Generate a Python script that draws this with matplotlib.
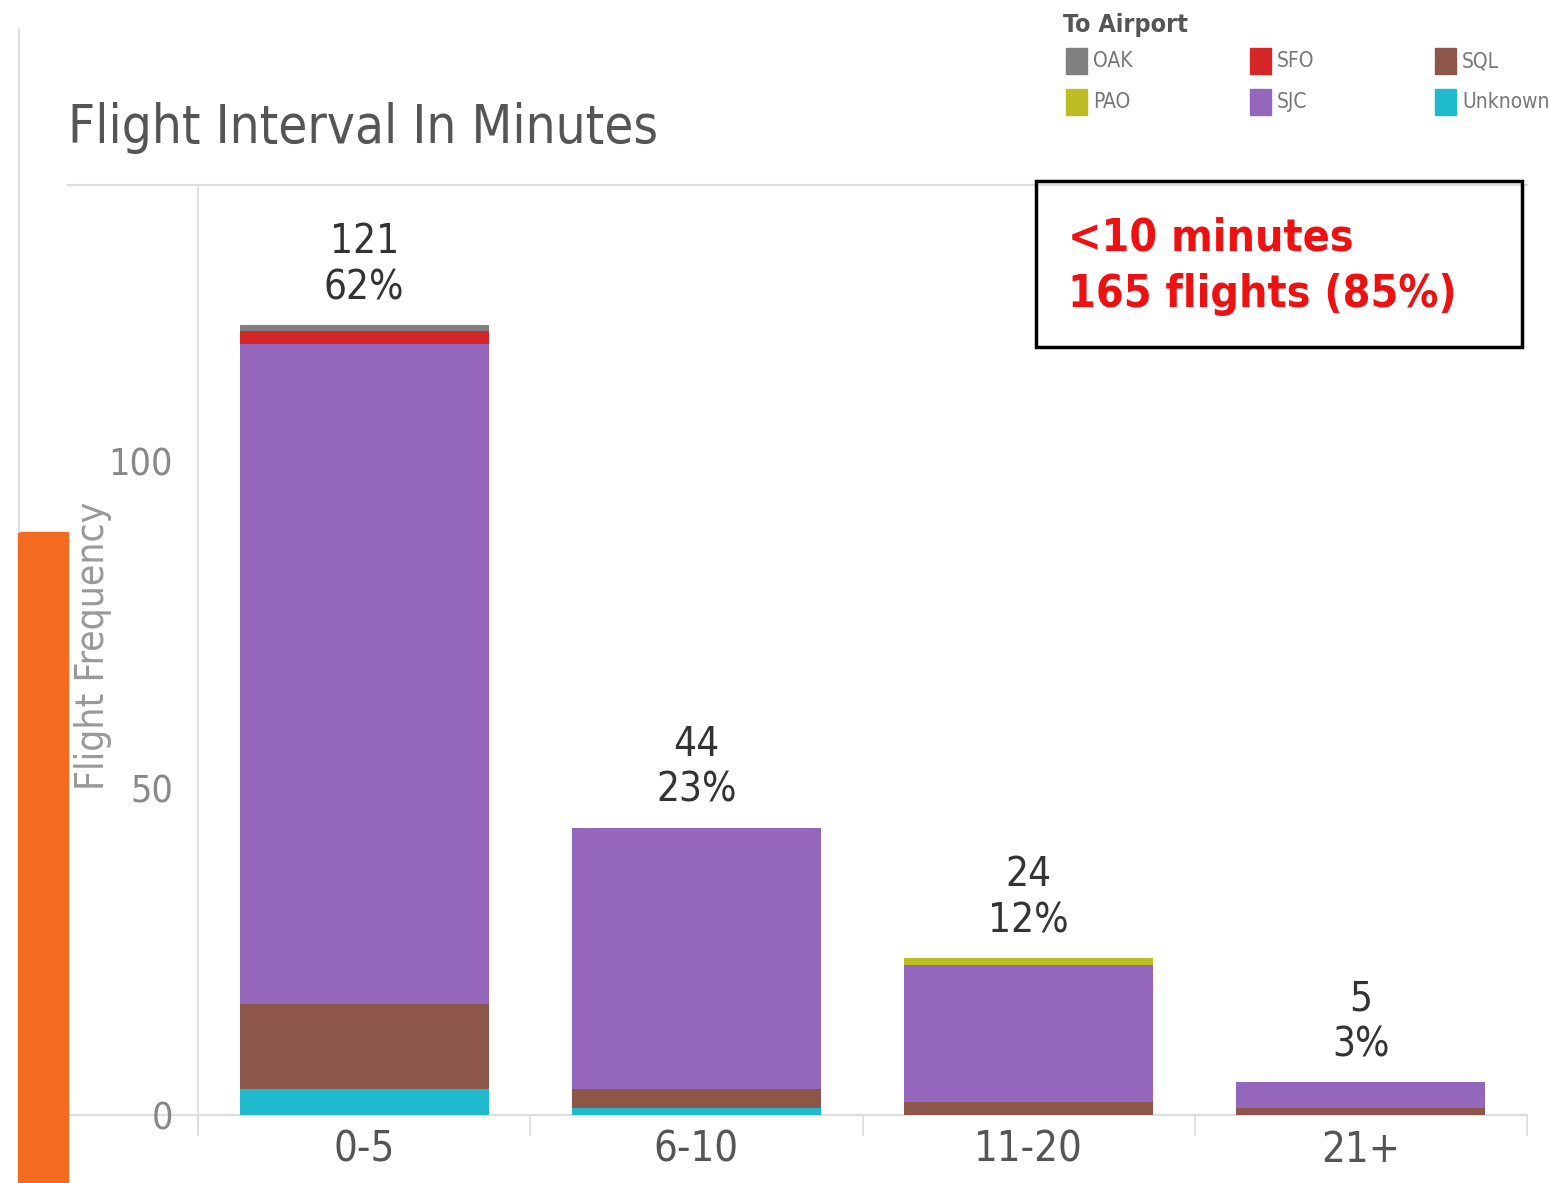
import matplotlib
matplotlib.use('Agg')
import matplotlib.pyplot as plt
from matplotlib.patches import Rectangle
from matplotlib.lines import Line2D

# 구간별 목적지 공항 편수
categories = ['0-5', '6-10', '11-20', '21+']
airports = ['Unknown', 'SQL', 'SJC', 'PAO', 'SFO', 'OAK']
unknown = [4, 1, 0, 0]
sql = [13, 3, 2, 1]
sjc = [101, 40, 21, 4]
pao = [0, 0, 1, 0]
sfo = [2, 0, 0, 0]
oak = [1, 0, 0, 0]
totals = [121, 44, 24, 5]
pcts = ['62%', '23%', '12%', '3%']

colors = {'OAK': '#7f7f7f', 'SFO': '#d62728', 'SQL': '#8c564b',
          'PAO': '#bcbd22', 'SJC': '#9467bd', 'Unknown': '#1fbacd'}
series = {'Unknown': unknown, 'SQL': sql, 'SJC': sjc,
          'PAO': pao, 'SFO': sfo, 'OAK': oak}

plt.rcParams['font.family'] = ['DejaVu Sans']
plt.rcParams['font.stretch'] = 'condensed'

fig = plt.figure(figsize=(15.5, 11.83), dpi=100)
ax = fig.add_axes([198 / 1550, 1 - 1115 / 1183, 1329 / 1550, 930 / 1183])

x = range(len(categories))
bottom = [0] * len(categories)
for name in airports:
    vals = series[name]
    ax.bar(x, vals, width=0.75, bottom=bottom, color=colors[name], linewidth=0)
    bottom = [b + v for b, v in zip(bottom, vals)]

# 막대 위 값 / 비율
for i, (t, p) in enumerate(zip(totals, pcts)):
    ax.annotate(f'{t}\n{p}', (i, t), xytext=(0, 12), textcoords='offset points',
                ha='center', va='bottom', fontsize=29, color='#333333',
                linespacing=1.2)

ax.set_xlim(-0.5, 3.5)
ax.set_ylim(0, 142.4)
ax.set_yticks([0, 50, 100])
ax.set_xticks(list(x))
ax.set_xticklabels(categories, fontsize=30, color='#555555')
ax.tick_params(axis='x', length=0, pad=10)
ax.tick_params(axis='y', length=0, labelsize=27, labelcolor='#888888', pad=18)
ax.set_xticks([-0.5, 0.5, 1.5, 2.5, 3.5], minor=True)
ax.tick_params(axis='x', which='minor', length=15, color='#dddddd', width=1.2)

for s in ['right', 'bottom', 'top']:
    ax.spines[s].set_visible(False)
ax.spines['left'].set_color('#dddddd')
ax.spines['left'].set_bounds(-3, 142.4)
ax.spines['left'].set_linewidth(1.2)

# 위/아래 가로선 (왼쪽으로 길게)
for yv in [0, 142.4]:
    ax.axhline(yv, xmin=-130 / 1329, xmax=1, color='#dddddd', linewidth=1.5,
               clip_on=False, zorder=0)

ax.set_ylabel('Flight Frequency', fontsize=28, color='#999999')
ax.yaxis.set_label_coords(-86 / 1329, 0.505)

# 제목
fig.text(68 / 1550, 1 - 128 / 1183, 'Flight Interval In Minutes', fontsize=38,
         color='#555555', va='center', ha='left')

# 왼쪽 장식
fig.patches.append(Rectangle((18 / 1550, 0), 50 / 1550, 1 - 532 / 1183,
                             transform=fig.transFigure, color='#f26b21'))
fig.lines.append(Line2D([19 / 1550, 19 / 1550], [1 - 532 / 1183, 1 - 30 / 1183],
                        transform=fig.transFigure, color='#dddddd', linewidth=1.5))

# 주석 박스
fig.patches.append(Rectangle((1036 / 1550, 1 - 347 / 1183), 486 / 1550, 166 / 1183,
                             transform=fig.transFigure, fill=False,
                             edgecolor='black', linewidth=2.5))
fig.text(1068 / 1550, 1 - 266 / 1183, '<10 minutes\n165 flights (85%)',
         fontsize=32, color='#ee1111', fontweight='bold', va='center',
         ha='left', linespacing=1.4)

# 범례
fig.text(1063 / 1550, 1 - 25 / 1183, 'To Airport', fontsize=18, color='#555555',
         fontweight='bold', va='center', ha='left')
legend_order = [['OAK', 'SFO', 'SQL'], ['PAO', 'SJC', 'Unknown']]
col_x = [1066, 1250, 1435]
row_y = [61, 102]
for r, row in enumerate(legend_order):
    for c, name in enumerate(row):
        fig.patches.append(Rectangle((col_x[c] / 1550, 1 - (row_y[r] + 13) / 1183),
                                     21 / 1550, 26 / 1183,
                                     transform=fig.transFigure, color=colors[name]))
        fig.text((col_x[c] + 27) / 1550, 1 - row_y[r] / 1183, name, fontsize=15,
                 color='#777777', va='center', ha='left')

fig.savefig('out.png', dpi=100)
